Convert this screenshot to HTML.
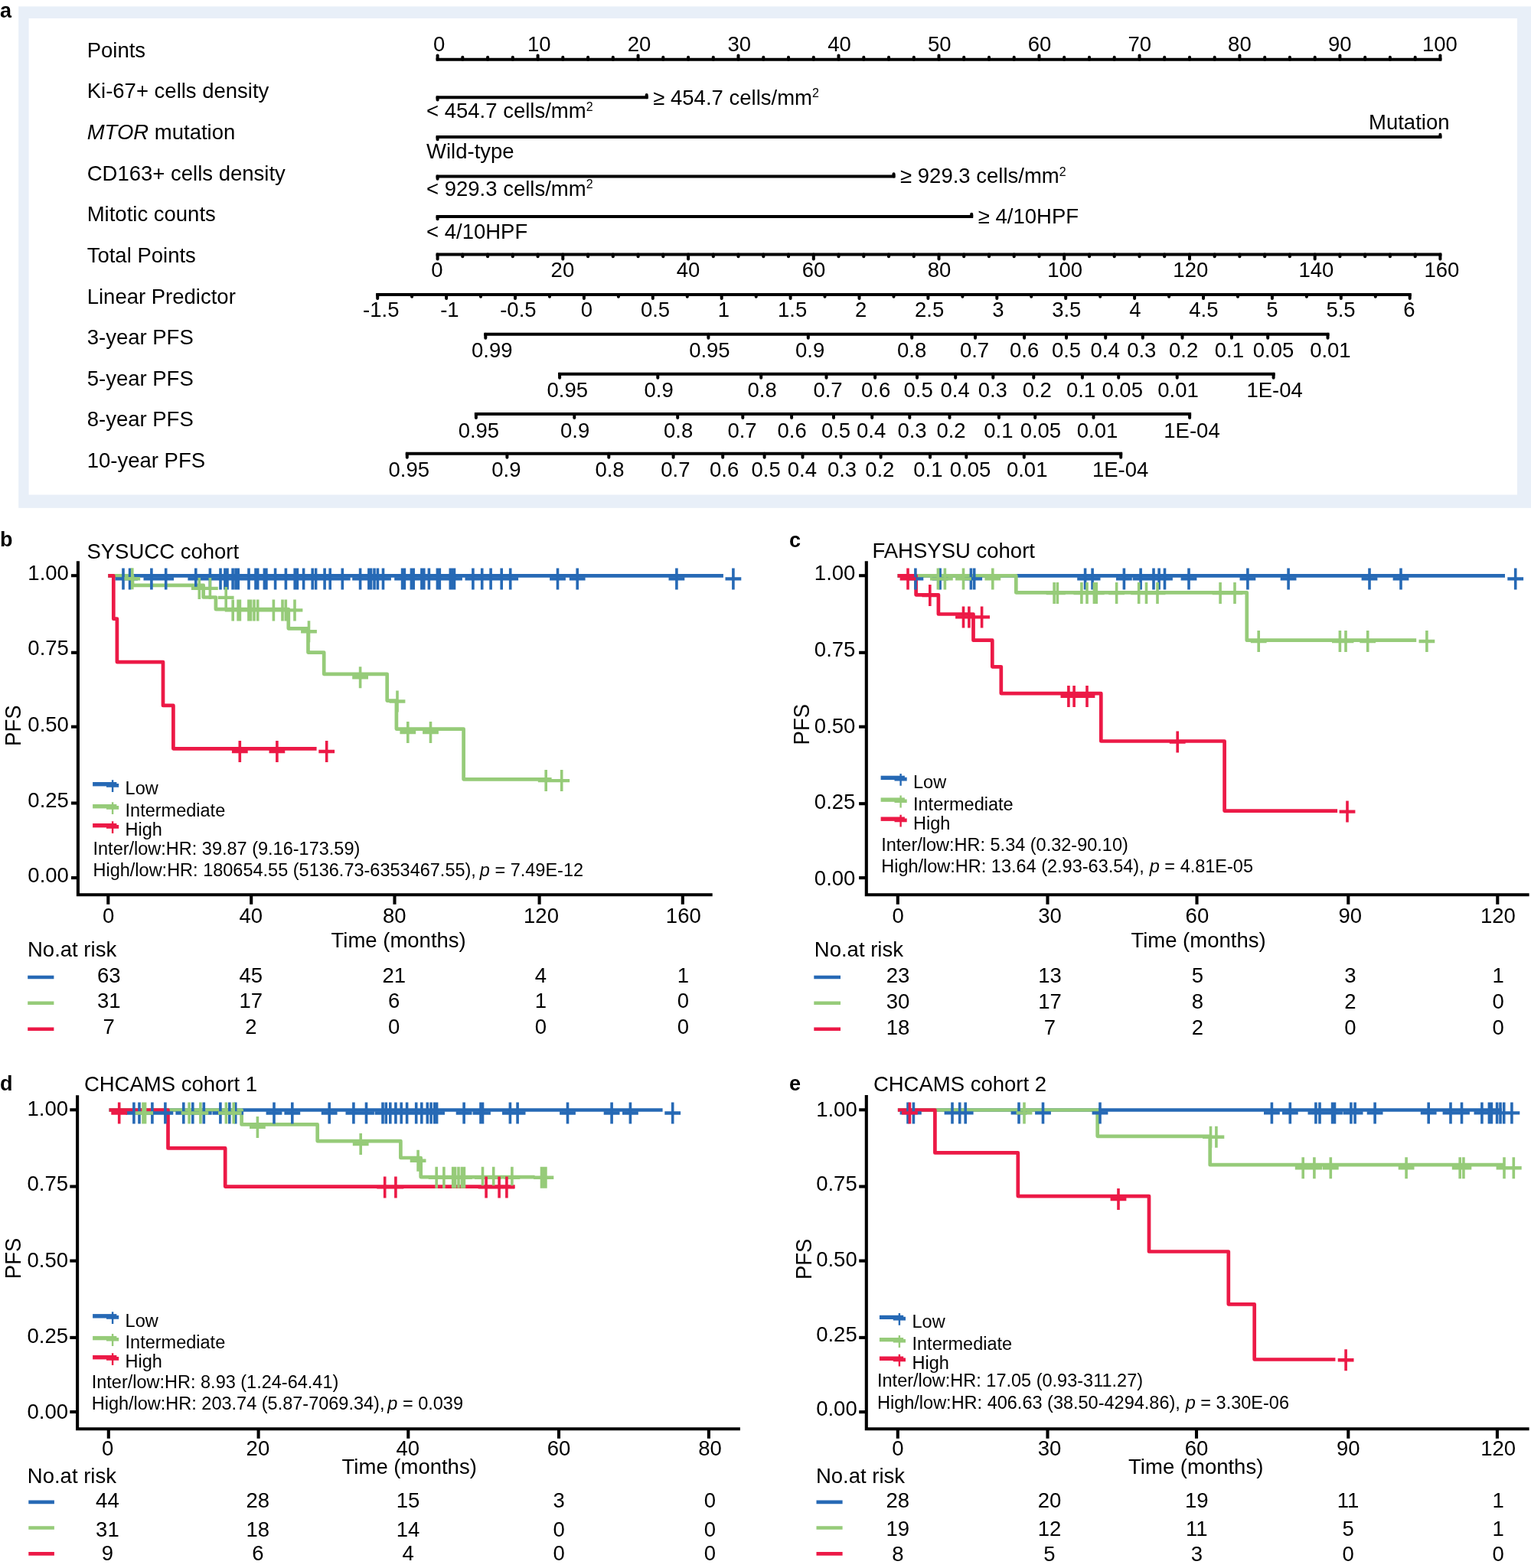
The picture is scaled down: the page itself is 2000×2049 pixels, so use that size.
<!DOCTYPE html>
<html lang="en">
<head>
<meta charset="utf-8">
<title>Nomogram and Kaplan-Meier PFS curves</title>
<style>
html,body{margin:0;padding:0;background:#fff;}
body{width:2000px;height:2049px;overflow:hidden;}
svg{display:block;font-family:"Liberation Sans", Arial, Helvetica, sans-serif;}
svg text{fill:#000;stroke:none;}
</style>
</head>
<body>
<svg xmlns="http://www.w3.org/2000/svg" width="2000" height="2049" viewBox="0 0 2000 2049" font-size="27.5" stroke="#000" fill="none">
<g stroke="none">
<rect x="0" y="0" width="2000" height="2049" fill="#fff"/>
</g>
<g id="panel-a">
<rect x="24.2" y="8.4" width="1976" height="655.4" fill="#E8EFF8" stroke="none"/>
<rect x="37.6" y="24" width="1944.4" height="622.5" fill="#fff" stroke="none"/>
<text x="0.0" y="23.3" font-weight="bold" font-size="27">a</text>
<text x="113.7" y="74.6">Points</text>
<text x="113.7" y="128.2">Ki-67+ cells density</text>
<text x="113.7" y="181.9"><tspan font-style="italic">MTOR</tspan> mutation</text>
<text x="113.7" y="235.5">CD163+ cells density</text>
<text x="113.7" y="289.2">Mitotic counts</text>
<text x="113.7" y="342.9">Total Points</text>
<text x="113.7" y="396.5">Linear Predictor</text>
<text x="113.7" y="450.1">3-year PFS</text>
<text x="113.7" y="503.8">5-year PFS</text>
<text x="113.7" y="557.4">8-year PFS</text>
<text x="113.7" y="611.1">10-year PFS</text>
<line x1="569.6" y1="77.8" x2="1883.4" y2="77.8" stroke-width="4.0"/>
<line x1="571.6" y1="77.8" x2="571.6" y2="72.4" stroke-width="4.0" stroke-linecap="round"/>
<text x="573.6" y="66.9" text-anchor="middle">0</text>
<line x1="604.3" y1="77.8" x2="604.3" y2="74.8" stroke-width="4.0" stroke-linecap="round"/>
<line x1="637.1" y1="77.8" x2="637.1" y2="74.8" stroke-width="4.0" stroke-linecap="round"/>
<line x1="669.8" y1="77.8" x2="669.8" y2="74.8" stroke-width="4.0" stroke-linecap="round"/>
<line x1="702.6" y1="77.8" x2="702.6" y2="72.4" stroke-width="4.0" stroke-linecap="round"/>
<text x="704.3" y="66.9" text-anchor="middle">10</text>
<line x1="735.3" y1="77.8" x2="735.3" y2="74.8" stroke-width="4.0" stroke-linecap="round"/>
<line x1="768.1" y1="77.8" x2="768.1" y2="74.8" stroke-width="4.0" stroke-linecap="round"/>
<line x1="800.8" y1="77.8" x2="800.8" y2="74.8" stroke-width="4.0" stroke-linecap="round"/>
<line x1="833.6" y1="77.8" x2="833.6" y2="72.4" stroke-width="4.0" stroke-linecap="round"/>
<text x="835.1" y="66.9" text-anchor="middle">20</text>
<line x1="866.3" y1="77.8" x2="866.3" y2="74.8" stroke-width="4.0" stroke-linecap="round"/>
<line x1="899.1" y1="77.8" x2="899.1" y2="74.8" stroke-width="4.0" stroke-linecap="round"/>
<line x1="931.8" y1="77.8" x2="931.8" y2="74.8" stroke-width="4.0" stroke-linecap="round"/>
<line x1="964.5" y1="77.8" x2="964.5" y2="72.4" stroke-width="4.0" stroke-linecap="round"/>
<text x="965.8" y="66.9" text-anchor="middle">30</text>
<line x1="997.3" y1="77.8" x2="997.3" y2="74.8" stroke-width="4.0" stroke-linecap="round"/>
<line x1="1030.0" y1="77.8" x2="1030.0" y2="74.8" stroke-width="4.0" stroke-linecap="round"/>
<line x1="1062.8" y1="77.8" x2="1062.8" y2="74.8" stroke-width="4.0" stroke-linecap="round"/>
<line x1="1095.5" y1="77.8" x2="1095.5" y2="72.4" stroke-width="4.0" stroke-linecap="round"/>
<text x="1096.5" y="66.9" text-anchor="middle">40</text>
<line x1="1128.3" y1="77.8" x2="1128.3" y2="74.8" stroke-width="4.0" stroke-linecap="round"/>
<line x1="1161.0" y1="77.8" x2="1161.0" y2="74.8" stroke-width="4.0" stroke-linecap="round"/>
<line x1="1193.8" y1="77.8" x2="1193.8" y2="74.8" stroke-width="4.0" stroke-linecap="round"/>
<line x1="1226.5" y1="77.8" x2="1226.5" y2="72.4" stroke-width="4.0" stroke-linecap="round"/>
<text x="1227.2" y="66.9" text-anchor="middle">50</text>
<line x1="1259.2" y1="77.8" x2="1259.2" y2="74.8" stroke-width="4.0" stroke-linecap="round"/>
<line x1="1292.0" y1="77.8" x2="1292.0" y2="74.8" stroke-width="4.0" stroke-linecap="round"/>
<line x1="1324.7" y1="77.8" x2="1324.7" y2="74.8" stroke-width="4.0" stroke-linecap="round"/>
<line x1="1357.5" y1="77.8" x2="1357.5" y2="72.4" stroke-width="4.0" stroke-linecap="round"/>
<text x="1358.0" y="66.9" text-anchor="middle">60</text>
<line x1="1390.2" y1="77.8" x2="1390.2" y2="74.8" stroke-width="4.0" stroke-linecap="round"/>
<line x1="1423.0" y1="77.8" x2="1423.0" y2="74.8" stroke-width="4.0" stroke-linecap="round"/>
<line x1="1455.7" y1="77.8" x2="1455.7" y2="74.8" stroke-width="4.0" stroke-linecap="round"/>
<line x1="1488.5" y1="77.8" x2="1488.5" y2="72.4" stroke-width="4.0" stroke-linecap="round"/>
<text x="1488.7" y="66.9" text-anchor="middle">70</text>
<line x1="1521.2" y1="77.8" x2="1521.2" y2="74.8" stroke-width="4.0" stroke-linecap="round"/>
<line x1="1554.0" y1="77.8" x2="1554.0" y2="74.8" stroke-width="4.0" stroke-linecap="round"/>
<line x1="1586.7" y1="77.8" x2="1586.7" y2="74.8" stroke-width="4.0" stroke-linecap="round"/>
<line x1="1619.4" y1="77.8" x2="1619.4" y2="72.4" stroke-width="4.0" stroke-linecap="round"/>
<text x="1619.4" y="66.9" text-anchor="middle">80</text>
<line x1="1652.2" y1="77.8" x2="1652.2" y2="74.8" stroke-width="4.0" stroke-linecap="round"/>
<line x1="1684.9" y1="77.8" x2="1684.9" y2="74.8" stroke-width="4.0" stroke-linecap="round"/>
<line x1="1717.7" y1="77.8" x2="1717.7" y2="74.8" stroke-width="4.0" stroke-linecap="round"/>
<line x1="1750.4" y1="77.8" x2="1750.4" y2="72.4" stroke-width="4.0" stroke-linecap="round"/>
<text x="1750.2" y="66.9" text-anchor="middle">90</text>
<line x1="1783.2" y1="77.8" x2="1783.2" y2="74.8" stroke-width="4.0" stroke-linecap="round"/>
<line x1="1815.9" y1="77.8" x2="1815.9" y2="74.8" stroke-width="4.0" stroke-linecap="round"/>
<line x1="1848.7" y1="77.8" x2="1848.7" y2="74.8" stroke-width="4.0" stroke-linecap="round"/>
<line x1="1881.4" y1="77.8" x2="1881.4" y2="72.4" stroke-width="4.0" stroke-linecap="round"/>
<text x="1880.9" y="66.9" text-anchor="middle">100</text>
<line x1="569.6" y1="127.3" x2="846.7" y2="127.3" stroke-width="4.0"/>
<line x1="571.6" y1="127.3" x2="571.6" y2="130.5" stroke-width="4.0" stroke-linecap="round"/>
<line x1="844.7" y1="127.3" x2="844.7" y2="124.1" stroke-width="4.0" stroke-linecap="round"/>
<text x="557.0" y="153.8">&lt; 454.7 cells/mm<tspan font-size="16" dy="-9.3">2</tspan></text>
<text x="853.3" y="136.7">≥ 454.7 cells/mm<tspan font-size="16" dy="-9.3">2</tspan></text>
<line x1="569.6" y1="179.0" x2="1883.4" y2="179.0" stroke-width="4.0"/>
<line x1="571.6" y1="179.0" x2="571.6" y2="182.2" stroke-width="4.0" stroke-linecap="round"/>
<line x1="1881.4" y1="179.0" x2="1881.4" y2="175.8" stroke-width="4.0" stroke-linecap="round"/>
<text x="557.0" y="206.5">Wild-type</text>
<text x="1893.5" y="169.1" text-anchor="end">Mutation</text>
<line x1="569.6" y1="230.5" x2="1169.5" y2="230.5" stroke-width="4.0"/>
<line x1="571.6" y1="230.5" x2="571.6" y2="233.7" stroke-width="4.0" stroke-linecap="round"/>
<line x1="1167.5" y1="230.5" x2="1167.5" y2="227.3" stroke-width="4.0" stroke-linecap="round"/>
<text x="557.0" y="255.7">&lt; 929.3 cells/mm<tspan font-size="16" dy="-9.3">2</tspan></text>
<text x="1176.1" y="239.2">≥ 929.3 cells/mm<tspan font-size="16" dy="-9.3">2</tspan></text>
<line x1="569.6" y1="283.0" x2="1271.2" y2="283.0" stroke-width="4.0"/>
<line x1="571.6" y1="283.0" x2="571.6" y2="286.2" stroke-width="4.0" stroke-linecap="round"/>
<line x1="1269.2" y1="283.0" x2="1269.2" y2="279.8" stroke-width="4.0" stroke-linecap="round"/>
<text x="557.0" y="312.4">&lt; 4/10HPF</text>
<text x="1277.8" y="291.7">≥ 4/10HPF</text>
<line x1="569.6" y1="332.4" x2="1883.4" y2="332.4" stroke-width="4.0"/>
<line x1="571.6" y1="332.4" x2="571.6" y2="338.4" stroke-width="4.0" stroke-linecap="round"/>
<text x="570.8" y="362.0" text-anchor="middle">0</text>
<line x1="604.3" y1="332.4" x2="604.3" y2="335.2" stroke-width="4.0" stroke-linecap="round"/>
<line x1="637.1" y1="332.4" x2="637.1" y2="335.2" stroke-width="4.0" stroke-linecap="round"/>
<line x1="669.8" y1="332.4" x2="669.8" y2="335.2" stroke-width="4.0" stroke-linecap="round"/>
<line x1="702.6" y1="332.4" x2="702.6" y2="335.2" stroke-width="4.0" stroke-linecap="round"/>
<line x1="735.3" y1="332.4" x2="735.3" y2="338.4" stroke-width="4.0" stroke-linecap="round"/>
<text x="734.9" y="362.0" text-anchor="middle">20</text>
<line x1="768.1" y1="332.4" x2="768.1" y2="335.2" stroke-width="4.0" stroke-linecap="round"/>
<line x1="800.8" y1="332.4" x2="800.8" y2="335.2" stroke-width="4.0" stroke-linecap="round"/>
<line x1="833.6" y1="332.4" x2="833.6" y2="335.2" stroke-width="4.0" stroke-linecap="round"/>
<line x1="866.3" y1="332.4" x2="866.3" y2="335.2" stroke-width="4.0" stroke-linecap="round"/>
<line x1="899.1" y1="332.4" x2="899.1" y2="338.4" stroke-width="4.0" stroke-linecap="round"/>
<text x="899.0" y="362.0" text-anchor="middle">40</text>
<line x1="931.8" y1="332.4" x2="931.8" y2="335.2" stroke-width="4.0" stroke-linecap="round"/>
<line x1="964.5" y1="332.4" x2="964.5" y2="335.2" stroke-width="4.0" stroke-linecap="round"/>
<line x1="997.3" y1="332.4" x2="997.3" y2="335.2" stroke-width="4.0" stroke-linecap="round"/>
<line x1="1030.0" y1="332.4" x2="1030.0" y2="335.2" stroke-width="4.0" stroke-linecap="round"/>
<line x1="1062.8" y1="332.4" x2="1062.8" y2="338.4" stroke-width="4.0" stroke-linecap="round"/>
<text x="1063.0" y="362.0" text-anchor="middle">60</text>
<line x1="1095.5" y1="332.4" x2="1095.5" y2="335.2" stroke-width="4.0" stroke-linecap="round"/>
<line x1="1128.3" y1="332.4" x2="1128.3" y2="335.2" stroke-width="4.0" stroke-linecap="round"/>
<line x1="1161.0" y1="332.4" x2="1161.0" y2="335.2" stroke-width="4.0" stroke-linecap="round"/>
<line x1="1193.8" y1="332.4" x2="1193.8" y2="335.2" stroke-width="4.0" stroke-linecap="round"/>
<line x1="1226.5" y1="332.4" x2="1226.5" y2="338.4" stroke-width="4.0" stroke-linecap="round"/>
<text x="1227.1" y="362.0" text-anchor="middle">80</text>
<line x1="1259.2" y1="332.4" x2="1259.2" y2="335.2" stroke-width="4.0" stroke-linecap="round"/>
<line x1="1292.0" y1="332.4" x2="1292.0" y2="335.2" stroke-width="4.0" stroke-linecap="round"/>
<line x1="1324.7" y1="332.4" x2="1324.7" y2="335.2" stroke-width="4.0" stroke-linecap="round"/>
<line x1="1357.5" y1="332.4" x2="1357.5" y2="335.2" stroke-width="4.0" stroke-linecap="round"/>
<line x1="1390.2" y1="332.4" x2="1390.2" y2="338.4" stroke-width="4.0" stroke-linecap="round"/>
<text x="1391.2" y="362.0" text-anchor="middle">100</text>
<line x1="1423.0" y1="332.4" x2="1423.0" y2="335.2" stroke-width="4.0" stroke-linecap="round"/>
<line x1="1455.7" y1="332.4" x2="1455.7" y2="335.2" stroke-width="4.0" stroke-linecap="round"/>
<line x1="1488.5" y1="332.4" x2="1488.5" y2="335.2" stroke-width="4.0" stroke-linecap="round"/>
<line x1="1521.2" y1="332.4" x2="1521.2" y2="335.2" stroke-width="4.0" stroke-linecap="round"/>
<line x1="1554.0" y1="332.4" x2="1554.0" y2="338.4" stroke-width="4.0" stroke-linecap="round"/>
<text x="1555.3" y="362.0" text-anchor="middle">120</text>
<line x1="1586.7" y1="332.4" x2="1586.7" y2="335.2" stroke-width="4.0" stroke-linecap="round"/>
<line x1="1619.4" y1="332.4" x2="1619.4" y2="335.2" stroke-width="4.0" stroke-linecap="round"/>
<line x1="1652.2" y1="332.4" x2="1652.2" y2="335.2" stroke-width="4.0" stroke-linecap="round"/>
<line x1="1684.9" y1="332.4" x2="1684.9" y2="335.2" stroke-width="4.0" stroke-linecap="round"/>
<line x1="1717.7" y1="332.4" x2="1717.7" y2="338.4" stroke-width="4.0" stroke-linecap="round"/>
<text x="1719.4" y="362.0" text-anchor="middle">140</text>
<line x1="1750.4" y1="332.4" x2="1750.4" y2="335.2" stroke-width="4.0" stroke-linecap="round"/>
<line x1="1783.2" y1="332.4" x2="1783.2" y2="335.2" stroke-width="4.0" stroke-linecap="round"/>
<line x1="1815.9" y1="332.4" x2="1815.9" y2="335.2" stroke-width="4.0" stroke-linecap="round"/>
<line x1="1848.7" y1="332.4" x2="1848.7" y2="335.2" stroke-width="4.0" stroke-linecap="round"/>
<line x1="1881.4" y1="332.4" x2="1881.4" y2="338.4" stroke-width="4.0" stroke-linecap="round"/>
<text x="1883.4" y="362.0" text-anchor="middle">160</text>
<line x1="491.2" y1="385.0" x2="1843.7" y2="385.0" stroke-width="4.0"/>
<line x1="493.2" y1="385.0" x2="493.2" y2="390.0" stroke-width="4.0" stroke-linecap="round"/>
<text x="497.8" y="413.8" text-anchor="middle">-1.5</text>
<line x1="538.1" y1="385.0" x2="538.1" y2="387.8" stroke-width="4.0" stroke-linecap="round"/>
<line x1="583.1" y1="385.0" x2="583.1" y2="390.0" stroke-width="4.0" stroke-linecap="round"/>
<text x="587.4" y="413.8" text-anchor="middle">-1</text>
<line x1="628.0" y1="385.0" x2="628.0" y2="387.8" stroke-width="4.0" stroke-linecap="round"/>
<line x1="673.0" y1="385.0" x2="673.0" y2="390.0" stroke-width="4.0" stroke-linecap="round"/>
<text x="676.9" y="413.8" text-anchor="middle">-0.5</text>
<line x1="718.0" y1="385.0" x2="718.0" y2="387.8" stroke-width="4.0" stroke-linecap="round"/>
<line x1="762.9" y1="385.0" x2="762.9" y2="390.0" stroke-width="4.0" stroke-linecap="round"/>
<text x="766.5" y="413.8" text-anchor="middle">0</text>
<line x1="807.9" y1="385.0" x2="807.9" y2="387.8" stroke-width="4.0" stroke-linecap="round"/>
<line x1="852.8" y1="385.0" x2="852.8" y2="390.0" stroke-width="4.0" stroke-linecap="round"/>
<text x="856.0" y="413.8" text-anchor="middle">0.5</text>
<line x1="897.8" y1="385.0" x2="897.8" y2="387.8" stroke-width="4.0" stroke-linecap="round"/>
<line x1="942.7" y1="385.0" x2="942.7" y2="390.0" stroke-width="4.0" stroke-linecap="round"/>
<text x="945.5" y="413.8" text-anchor="middle">1</text>
<line x1="987.7" y1="385.0" x2="987.7" y2="387.8" stroke-width="4.0" stroke-linecap="round"/>
<line x1="1032.6" y1="385.0" x2="1032.6" y2="390.0" stroke-width="4.0" stroke-linecap="round"/>
<text x="1035.1" y="413.8" text-anchor="middle">1.5</text>
<line x1="1077.5" y1="385.0" x2="1077.5" y2="387.8" stroke-width="4.0" stroke-linecap="round"/>
<line x1="1122.5" y1="385.0" x2="1122.5" y2="390.0" stroke-width="4.0" stroke-linecap="round"/>
<text x="1124.7" y="413.8" text-anchor="middle">2</text>
<line x1="1167.5" y1="385.0" x2="1167.5" y2="387.8" stroke-width="4.0" stroke-linecap="round"/>
<line x1="1212.4" y1="385.0" x2="1212.4" y2="390.0" stroke-width="4.0" stroke-linecap="round"/>
<text x="1214.2" y="413.8" text-anchor="middle">2.5</text>
<line x1="1257.4" y1="385.0" x2="1257.4" y2="387.8" stroke-width="4.0" stroke-linecap="round"/>
<line x1="1302.3" y1="385.0" x2="1302.3" y2="390.0" stroke-width="4.0" stroke-linecap="round"/>
<text x="1303.8" y="413.8" text-anchor="middle">3</text>
<line x1="1347.2" y1="385.0" x2="1347.2" y2="387.8" stroke-width="4.0" stroke-linecap="round"/>
<line x1="1392.2" y1="385.0" x2="1392.2" y2="390.0" stroke-width="4.0" stroke-linecap="round"/>
<text x="1393.3" y="413.8" text-anchor="middle">3.5</text>
<line x1="1437.2" y1="385.0" x2="1437.2" y2="387.8" stroke-width="4.0" stroke-linecap="round"/>
<line x1="1482.1" y1="385.0" x2="1482.1" y2="390.0" stroke-width="4.0" stroke-linecap="round"/>
<text x="1482.8" y="413.8" text-anchor="middle">4</text>
<line x1="1527.1" y1="385.0" x2="1527.1" y2="387.8" stroke-width="4.0" stroke-linecap="round"/>
<line x1="1572.0" y1="385.0" x2="1572.0" y2="390.0" stroke-width="4.0" stroke-linecap="round"/>
<text x="1572.4" y="413.8" text-anchor="middle">4.5</text>
<line x1="1617.0" y1="385.0" x2="1617.0" y2="387.8" stroke-width="4.0" stroke-linecap="round"/>
<line x1="1661.9" y1="385.0" x2="1661.9" y2="390.0" stroke-width="4.0" stroke-linecap="round"/>
<text x="1661.9" y="413.8" text-anchor="middle">5</text>
<line x1="1706.9" y1="385.0" x2="1706.9" y2="387.8" stroke-width="4.0" stroke-linecap="round"/>
<line x1="1751.8" y1="385.0" x2="1751.8" y2="390.0" stroke-width="4.0" stroke-linecap="round"/>
<text x="1751.5" y="413.8" text-anchor="middle">5.5</text>
<line x1="1796.8" y1="385.0" x2="1796.8" y2="387.8" stroke-width="4.0" stroke-linecap="round"/>
<line x1="1841.7" y1="385.0" x2="1841.7" y2="390.0" stroke-width="4.0" stroke-linecap="round"/>
<text x="1841.0" y="413.8" text-anchor="middle">6</text>
<line x1="632.3" y1="436.8" x2="1736.5" y2="436.8" stroke-width="4.0"/>
<line x1="634.3" y1="436.8" x2="634.3" y2="441.8" stroke-width="4.0" stroke-linecap="round"/>
<text x="642.8" y="466.8" text-anchor="middle">0.99</text>
<line x1="925.4" y1="436.8" x2="925.4" y2="441.8" stroke-width="4.0" stroke-linecap="round"/>
<text x="926.9" y="466.8" text-anchor="middle">0.95</text>
<line x1="1055.8" y1="436.8" x2="1055.8" y2="441.8" stroke-width="4.0" stroke-linecap="round"/>
<text x="1058.1" y="466.8" text-anchor="middle">0.9</text>
<line x1="1191.2" y1="436.8" x2="1191.2" y2="441.8" stroke-width="4.0" stroke-linecap="round"/>
<text x="1191.2" y="466.8" text-anchor="middle">0.8</text>
<line x1="1274.0" y1="436.8" x2="1274.0" y2="441.8" stroke-width="4.0" stroke-linecap="round"/>
<text x="1273.0" y="466.8" text-anchor="middle">0.7</text>
<line x1="1338.1" y1="436.8" x2="1338.1" y2="441.8" stroke-width="4.0" stroke-linecap="round"/>
<text x="1338.1" y="466.8" text-anchor="middle">0.6</text>
<line x1="1393.0" y1="436.8" x2="1393.0" y2="441.8" stroke-width="4.0" stroke-linecap="round"/>
<text x="1393.0" y="466.8" text-anchor="middle">0.5</text>
<line x1="1444.2" y1="436.8" x2="1444.2" y2="441.8" stroke-width="4.0" stroke-linecap="round"/>
<text x="1443.6" y="466.8" text-anchor="middle">0.4</text>
<line x1="1492.8" y1="436.8" x2="1492.8" y2="441.8" stroke-width="4.0" stroke-linecap="round"/>
<text x="1491.3" y="466.8" text-anchor="middle">0.3</text>
<line x1="1544.5" y1="436.8" x2="1544.5" y2="441.8" stroke-width="4.0" stroke-linecap="round"/>
<text x="1546.1" y="466.8" text-anchor="middle">0.2</text>
<line x1="1608.9" y1="436.8" x2="1608.9" y2="441.8" stroke-width="4.0" stroke-linecap="round"/>
<text x="1605.9" y="466.8" text-anchor="middle">0.1</text>
<line x1="1656.2" y1="436.8" x2="1656.2" y2="441.8" stroke-width="4.0" stroke-linecap="round"/>
<text x="1663.5" y="466.8" text-anchor="middle">0.05</text>
<line x1="1734.5" y1="436.8" x2="1734.5" y2="441.8" stroke-width="4.0" stroke-linecap="round"/>
<text x="1737.9" y="466.8" text-anchor="middle">0.01</text>
<line x1="729.1" y1="488.7" x2="1665.6" y2="488.7" stroke-width="4.0"/>
<line x1="731.1" y1="488.7" x2="731.1" y2="493.7" stroke-width="4.0" stroke-linecap="round"/>
<text x="741.3" y="518.5" text-anchor="middle">0.95</text>
<line x1="859.3" y1="488.7" x2="859.3" y2="493.7" stroke-width="4.0" stroke-linecap="round"/>
<text x="860.6" y="518.5" text-anchor="middle">0.9</text>
<line x1="994.2" y1="488.7" x2="994.2" y2="493.7" stroke-width="4.0" stroke-linecap="round"/>
<text x="995.7" y="518.5" text-anchor="middle">0.8</text>
<line x1="1079.5" y1="488.7" x2="1079.5" y2="493.7" stroke-width="4.0" stroke-linecap="round"/>
<text x="1081.5" y="518.5" text-anchor="middle">0.7</text>
<line x1="1143.1" y1="488.7" x2="1143.1" y2="493.7" stroke-width="4.0" stroke-linecap="round"/>
<text x="1144.2" y="518.5" text-anchor="middle">0.6</text>
<line x1="1198.0" y1="488.7" x2="1198.0" y2="493.7" stroke-width="4.0" stroke-linecap="round"/>
<text x="1199.6" y="518.5" text-anchor="middle">0.5</text>
<line x1="1248.2" y1="488.7" x2="1248.2" y2="493.7" stroke-width="4.0" stroke-linecap="round"/>
<text x="1247.7" y="518.5" text-anchor="middle">0.4</text>
<line x1="1297.3" y1="488.7" x2="1297.3" y2="493.7" stroke-width="4.0" stroke-linecap="round"/>
<text x="1296.8" y="518.5" text-anchor="middle">0.3</text>
<line x1="1350.3" y1="488.7" x2="1350.3" y2="493.7" stroke-width="4.0" stroke-linecap="round"/>
<text x="1354.8" y="518.5" text-anchor="middle">0.2</text>
<line x1="1413.9" y1="488.7" x2="1413.9" y2="493.7" stroke-width="4.0" stroke-linecap="round"/>
<text x="1412.0" y="518.5" text-anchor="middle">0.1</text>
<line x1="1461.2" y1="488.7" x2="1461.2" y2="493.7" stroke-width="4.0" stroke-linecap="round"/>
<text x="1466.2" y="518.5" text-anchor="middle">0.05</text>
<line x1="1537.7" y1="488.7" x2="1537.7" y2="493.7" stroke-width="4.0" stroke-linecap="round"/>
<text x="1539.0" y="518.5" text-anchor="middle">0.01</text>
<line x1="1663.6" y1="488.7" x2="1663.6" y2="493.7" stroke-width="4.0" stroke-linecap="round"/>
<text x="1665.1" y="518.5" text-anchor="middle">1E-04</text>
<line x1="619.9" y1="541.1" x2="1556.1" y2="541.1" stroke-width="4.0"/>
<line x1="621.9" y1="541.1" x2="621.9" y2="546.1" stroke-width="4.0" stroke-linecap="round"/>
<text x="625.4" y="572.1" text-anchor="middle">0.95</text>
<line x1="750.3" y1="541.1" x2="750.3" y2="546.1" stroke-width="4.0" stroke-linecap="round"/>
<text x="751.1" y="572.1" text-anchor="middle">0.9</text>
<line x1="885.2" y1="541.1" x2="885.2" y2="546.1" stroke-width="4.0" stroke-linecap="round"/>
<text x="886.1" y="572.1" text-anchor="middle">0.8</text>
<line x1="970.3" y1="541.1" x2="970.3" y2="546.1" stroke-width="4.0" stroke-linecap="round"/>
<text x="969.5" y="572.1" text-anchor="middle">0.7</text>
<line x1="1034.1" y1="541.1" x2="1034.1" y2="546.1" stroke-width="4.0" stroke-linecap="round"/>
<text x="1034.6" y="572.1" text-anchor="middle">0.6</text>
<line x1="1089.0" y1="541.1" x2="1089.0" y2="546.1" stroke-width="4.0" stroke-linecap="round"/>
<text x="1092.0" y="572.1" text-anchor="middle">0.5</text>
<line x1="1139.2" y1="541.1" x2="1139.2" y2="546.1" stroke-width="4.0" stroke-linecap="round"/>
<text x="1138.1" y="572.1" text-anchor="middle">0.4</text>
<line x1="1188.3" y1="541.1" x2="1188.3" y2="546.1" stroke-width="4.0" stroke-linecap="round"/>
<text x="1191.5" y="572.1" text-anchor="middle">0.3</text>
<line x1="1240.5" y1="541.1" x2="1240.5" y2="546.1" stroke-width="4.0" stroke-linecap="round"/>
<text x="1242.5" y="572.1" text-anchor="middle">0.2</text>
<line x1="1304.9" y1="541.1" x2="1304.9" y2="546.1" stroke-width="4.0" stroke-linecap="round"/>
<text x="1304.4" y="572.1" text-anchor="middle">0.1</text>
<line x1="1352.2" y1="541.1" x2="1352.2" y2="546.1" stroke-width="4.0" stroke-linecap="round"/>
<text x="1359.4" y="572.1" text-anchor="middle">0.05</text>
<line x1="1428.5" y1="541.1" x2="1428.5" y2="546.1" stroke-width="4.0" stroke-linecap="round"/>
<text x="1433.5" y="572.1" text-anchor="middle">0.01</text>
<line x1="1554.1" y1="541.1" x2="1554.1" y2="546.1" stroke-width="4.0" stroke-linecap="round"/>
<text x="1557.0" y="572.1" text-anchor="middle">1E-04</text>
<line x1="529.8" y1="592.7" x2="1466.2" y2="592.7" stroke-width="4.0"/>
<line x1="531.8" y1="592.7" x2="531.8" y2="597.7" stroke-width="4.0" stroke-linecap="round"/>
<text x="534.3" y="623.3" text-anchor="middle">0.95</text>
<line x1="662.4" y1="592.7" x2="662.4" y2="597.7" stroke-width="4.0" stroke-linecap="round"/>
<text x="661.4" y="623.3" text-anchor="middle">0.9</text>
<line x1="795.3" y1="592.7" x2="795.3" y2="597.7" stroke-width="4.0" stroke-linecap="round"/>
<text x="796.5" y="623.3" text-anchor="middle">0.8</text>
<line x1="879.6" y1="592.7" x2="879.6" y2="597.7" stroke-width="4.0" stroke-linecap="round"/>
<text x="882.4" y="623.3" text-anchor="middle">0.7</text>
<line x1="944.2" y1="592.7" x2="944.2" y2="597.7" stroke-width="4.0" stroke-linecap="round"/>
<text x="946.2" y="623.3" text-anchor="middle">0.6</text>
<line x1="998.6" y1="592.7" x2="998.6" y2="597.7" stroke-width="4.0" stroke-linecap="round"/>
<text x="1000.6" y="623.3" text-anchor="middle">0.5</text>
<line x1="1048.5" y1="592.7" x2="1048.5" y2="597.7" stroke-width="4.0" stroke-linecap="round"/>
<text x="1047.9" y="623.3" text-anchor="middle">0.4</text>
<line x1="1098.4" y1="592.7" x2="1098.4" y2="597.7" stroke-width="4.0" stroke-linecap="round"/>
<text x="1100.0" y="623.3" text-anchor="middle">0.3</text>
<line x1="1150.6" y1="592.7" x2="1150.6" y2="597.7" stroke-width="4.0" stroke-linecap="round"/>
<text x="1149.3" y="623.3" text-anchor="middle">0.2</text>
<line x1="1215.0" y1="592.7" x2="1215.0" y2="597.7" stroke-width="4.0" stroke-linecap="round"/>
<text x="1212.4" y="623.3" text-anchor="middle">0.1</text>
<line x1="1262.3" y1="592.7" x2="1262.3" y2="597.7" stroke-width="4.0" stroke-linecap="round"/>
<text x="1267.6" y="623.3" text-anchor="middle">0.05</text>
<line x1="1337.8" y1="592.7" x2="1337.8" y2="597.7" stroke-width="4.0" stroke-linecap="round"/>
<text x="1341.7" y="623.3" text-anchor="middle">0.01</text>
<line x1="1464.2" y1="592.7" x2="1464.2" y2="597.7" stroke-width="4.0" stroke-linecap="round"/>
<text x="1463.6" y="623.3" text-anchor="middle">1E-04</text>
</g>
<g id="panel-b">
<text x="0.0" y="714.2" font-weight="bold" font-size="27">b</text>
<text x="113.4" y="729.9">SYSUCC cohort</text>
<path d="M101.9,733.3V1169.2H930.7" stroke-width="4.1" stroke-linejoin="miter"/>
<line x1="93.0" y1="752.2" x2="101.9" y2="752.2" stroke-width="4.1"/>
<text x="89.9" y="757.7" text-anchor="end">1.00</text>
<line x1="93.0" y1="852.8" x2="101.9" y2="852.8" stroke-width="4.1"/>
<text x="89.9" y="856.2" text-anchor="end">0.75</text>
<line x1="93.0" y1="949.7" x2="101.9" y2="949.7" stroke-width="4.1"/>
<text x="89.9" y="955.7" text-anchor="end">0.50</text>
<line x1="93.0" y1="1049.5" x2="101.9" y2="1049.5" stroke-width="4.1"/>
<text x="89.9" y="1054.6" text-anchor="end">0.25</text>
<line x1="93.0" y1="1147.1" x2="101.9" y2="1147.1" stroke-width="4.1"/>
<text x="89.9" y="1152.8" text-anchor="end">0.00</text>
<line x1="141.3" y1="1169.2" x2="141.3" y2="1181.8" stroke-width="4.1"/>
<text x="141.7" y="1206.0" text-anchor="middle">0</text>
<line x1="328.2" y1="1169.2" x2="328.2" y2="1181.8" stroke-width="4.1"/>
<text x="327.8" y="1206.0" text-anchor="middle">40</text>
<line x1="515.5" y1="1169.2" x2="515.5" y2="1181.8" stroke-width="4.1"/>
<text x="515.2" y="1206.0" text-anchor="middle">80</text>
<line x1="704.6" y1="1169.2" x2="704.6" y2="1181.8" stroke-width="4.1"/>
<text x="707.0" y="1206.0" text-anchor="middle">120</text>
<line x1="891.8" y1="1169.2" x2="891.8" y2="1181.8" stroke-width="4.1"/>
<text x="892.8" y="1206.0" text-anchor="middle">160</text>
<text x="432.5" y="1238.2">Time (months)</text>
<text transform="translate(27.0,948.2) rotate(-90) scale(1,1.05)" text-anchor="middle">PFS</text>
<path d="M141.3,752.4H944.9" stroke="#2669B5" stroke-width="4.7" stroke-linejoin="round"/>
<path d="M141.3,752.4H173.0V764.9H265.7V780.5H281.9V796.1H376.8V821.3H402.5V852.6H423.2V880.8H505.7V915.6H517.9V952.6H605.6V1018.3H720.6" stroke="#96CB79" stroke-width="4.7" stroke-linejoin="round"/>
<path d="M141.3,752.4H148.3V808.7H152.9V865.1H213V921.9H226.4V978.3H413.6" stroke="#EC1946" stroke-width="4.7" stroke-linejoin="round"/>
<path d="M159.2,742.4h3.6v28h-3.6zM150.6,754.2h20.8v4.4h-20.8zM167.8,742.4h3.6v28h-3.6zM159.2,754.2h20.8v4.4h-20.8zM196.1,742.4h3.6v28h-3.6zM187.5,754.2h20.8v4.4h-20.8zM214.9,742.4h3.6v28h-3.6zM206.3,754.2h20.8v4.4h-20.8zM254.0,742.4h3.6v28h-3.6zM245.4,754.2h20.8v4.4h-20.8zM272.6,742.4h3.6v28h-3.6zM264.0,754.2h20.8v4.4h-20.8zM286.2,742.4h3.6v28h-3.6zM277.6,754.2h20.8v4.4h-20.8zM292.1,742.4h3.6v28h-3.6zM283.5,754.2h20.8v4.4h-20.8zM295.2,742.4h3.6v28h-3.6zM286.6,754.2h20.8v4.4h-20.8zM302.3,742.4h3.6v28h-3.6zM293.7,754.2h20.8v4.4h-20.8zM306.2,742.4h3.6v28h-3.6zM297.6,754.2h20.8v4.4h-20.8zM309.4,742.4h3.6v28h-3.6zM300.8,754.2h20.8v4.4h-20.8zM323.2,742.4h3.6v28h-3.6zM314.6,754.2h20.8v4.4h-20.8zM332.2,742.4h3.6v28h-3.6zM323.6,754.2h20.8v4.4h-20.8zM334.9,742.4h3.6v28h-3.6zM326.3,754.2h20.8v4.4h-20.8zM343.6,742.4h3.6v28h-3.6zM335.0,754.2h20.8v4.4h-20.8zM346.1,742.4h3.6v28h-3.6zM337.5,754.2h20.8v4.4h-20.8zM357.8,742.4h3.6v28h-3.6zM349.2,754.2h20.8v4.4h-20.8zM371.6,742.4h3.6v28h-3.6zM363.0,754.2h20.8v4.4h-20.8zM383.4,742.4h3.6v28h-3.6zM374.8,754.2h20.8v4.4h-20.8zM386.6,742.4h3.6v28h-3.6zM378.0,754.2h20.8v4.4h-20.8zM394.8,742.4h3.6v28h-3.6zM386.2,754.2h20.8v4.4h-20.8zM406.4,742.4h3.6v28h-3.6zM397.8,754.2h20.8v4.4h-20.8zM410.8,742.4h3.6v28h-3.6zM402.2,754.2h20.8v4.4h-20.8zM422.3,742.4h3.6v28h-3.6zM413.7,754.2h20.8v4.4h-20.8zM429.4,742.4h3.6v28h-3.6zM420.8,754.2h20.8v4.4h-20.8zM445.5,742.4h3.6v28h-3.6zM436.9,754.2h20.8v4.4h-20.8zM468.8,742.4h3.6v28h-3.6zM460.2,754.2h20.8v4.4h-20.8zM480.1,742.4h3.6v28h-3.6zM471.5,754.2h20.8v4.4h-20.8zM482.8,742.4h3.6v28h-3.6zM474.2,754.2h20.8v4.4h-20.8zM487.2,742.4h3.6v28h-3.6zM478.6,754.2h20.8v4.4h-20.8zM491.6,742.4h3.6v28h-3.6zM483.0,754.2h20.8v4.4h-20.8zM498.7,742.4h3.6v28h-3.6zM490.1,754.2h20.8v4.4h-20.8zM523.8,742.4h3.6v28h-3.6zM515.2,754.2h20.8v4.4h-20.8zM526.6,742.4h3.6v28h-3.6zM518.0,754.2h20.8v4.4h-20.8zM535.6,742.4h3.6v28h-3.6zM527.0,754.2h20.8v4.4h-20.8zM538.4,742.4h3.6v28h-3.6zM529.8,754.2h20.8v4.4h-20.8zM549.1,742.4h3.6v28h-3.6zM540.5,754.2h20.8v4.4h-20.8zM552.0,742.4h3.6v28h-3.6zM543.4,754.2h20.8v4.4h-20.8zM558.6,742.4h3.6v28h-3.6zM550.0,754.2h20.8v4.4h-20.8zM569.6,742.4h3.6v28h-3.6zM561.0,754.2h20.8v4.4h-20.8zM572.5,742.4h3.6v28h-3.6zM563.9,754.2h20.8v4.4h-20.8zM586.5,742.4h3.6v28h-3.6zM577.9,754.2h20.8v4.4h-20.8zM589.0,742.4h3.6v28h-3.6zM580.4,754.2h20.8v4.4h-20.8zM591.7,742.4h3.6v28h-3.6zM583.1,754.2h20.8v4.4h-20.8zM616.1,742.4h3.6v28h-3.6zM607.5,754.2h20.8v4.4h-20.8zM627.9,742.4h3.6v28h-3.6zM619.3,754.2h20.8v4.4h-20.8zM639.3,742.4h3.6v28h-3.6zM630.7,754.2h20.8v4.4h-20.8zM653.4,742.4h3.6v28h-3.6zM644.8,754.2h20.8v4.4h-20.8zM664.9,742.4h3.6v28h-3.6zM656.3,754.2h20.8v4.4h-20.8zM726.7,742.4h3.6v28h-3.6zM718.1,754.2h20.8v4.4h-20.8zM752.4,742.4h3.6v28h-3.6zM743.8,754.2h20.8v4.4h-20.8zM882.1,742.4h3.6v28h-3.6zM873.5,754.2h20.8v4.4h-20.8zM956.1,742.4h3.6v28h-3.6zM947.5,754.2h20.8v4.4h-20.8z" fill="#2669B5" stroke="none"/>
<path d="M171.0,742.3h3.6v28h-3.6zM162.4,754.1h20.8v4.4h-20.8zM258.5,754.9h3.6v28h-3.6zM249.9,766.7h20.8v4.4h-20.8zM272.6,754.9h3.6v28h-3.6zM264.0,766.7h20.8v4.4h-20.8zM293.4,766.9h3.6v28h-3.6zM284.8,778.7h20.8v4.4h-20.8zM302.4,783.4h3.6v28h-3.6zM293.8,795.2h20.8v4.4h-20.8zM309.3,783.4h3.6v28h-3.6zM300.7,795.2h20.8v4.4h-20.8zM311.6,783.4h3.6v28h-3.6zM303.0,795.2h20.8v4.4h-20.8zM323.1,783.4h3.6v28h-3.6zM314.5,795.2h20.8v4.4h-20.8zM325.8,783.4h3.6v28h-3.6zM317.2,795.2h20.8v4.4h-20.8zM330.2,783.4h3.6v28h-3.6zM321.6,795.2h20.8v4.4h-20.8zM334.9,783.4h3.6v28h-3.6zM326.3,795.2h20.8v4.4h-20.8zM355.6,783.4h3.6v28h-3.6zM347.0,795.2h20.8v4.4h-20.8zM367.2,783.4h3.6v28h-3.6zM358.6,795.2h20.8v4.4h-20.8zM371.5,783.4h3.6v28h-3.6zM362.9,795.2h20.8v4.4h-20.8zM383.2,783.4h3.6v28h-3.6zM374.6,795.2h20.8v4.4h-20.8zM401.7,811.3h3.6v28h-3.6zM393.1,823.1h20.8v4.4h-20.8zM468.8,871.2h3.6v28h-3.6zM460.2,883.0h20.8v4.4h-20.8zM517.2,902.5h3.6v28h-3.6zM508.6,914.3h20.8v4.4h-20.8zM531.0,943.1h3.6v28h-3.6zM522.4,954.9h20.8v4.4h-20.8zM560.7,943.1h3.6v28h-3.6zM552.1,954.9h20.8v4.4h-20.8zM711.4,1006.1h3.6v28h-3.6zM702.8,1017.9h20.8v4.4h-20.8zM731.9,1006.1h3.6v28h-3.6zM723.3,1017.9h20.8v4.4h-20.8z" fill="#96CB79" stroke="none"/>
<path d="M311.5,968.0h3.6v28h-3.6zM302.9,979.8h20.8v4.4h-20.8zM360.1,968.0h3.6v28h-3.6zM351.5,979.8h20.8v4.4h-20.8zM424.9,968.0h3.6v28h-3.6zM416.3,979.8h20.8v4.4h-20.8z" fill="#EC1946" stroke="none"/>
<line x1="121.1" y1="1024.7" x2="152.4" y2="1024.7" stroke-width="5.4" stroke="#2669B5"/>
<path d="M145.9,1019.2h2.4v15.8h-2.4z M139.0,1024.0h16.2v4.7h-16.2z" fill="#2669B5" stroke="none"/>
<text x="163.6" y="1038.4" font-size="23.5">Low</text>
<line x1="121.1" y1="1053.7" x2="152.4" y2="1053.7" stroke-width="5.4" stroke="#96CB79"/>
<path d="M145.9,1048.2h2.4v15.8h-2.4z M139.0,1053.0h16.2v4.7h-16.2z" fill="#96CB79" stroke="none"/>
<text x="163.6" y="1067.0" font-size="23.5">Intermediate</text>
<line x1="121.1" y1="1078.7" x2="152.4" y2="1078.7" stroke-width="5.4" stroke="#EC1946"/>
<path d="M145.9,1073.2h2.4v15.8h-2.4z M139.0,1078.0h16.2v4.7h-16.2z" fill="#EC1946" stroke="none"/>
<text x="163.6" y="1091.7" font-size="23.5">High</text>
<text x="121.5" y="1116.6" font-size="23.5">Inter/low:HR: 39.87 (9.16-173.59)</text>
<text x="121.5" y="1144.7" font-size="23.5">High/low:HR: 180654.55 (5136.73-6353467.55), <tspan font-style="italic" dx="-1.6">p</tspan> = 7.49E-12</text>
<text x="36.0" y="1250.0">No.at risk</text>
<line x1="36.2" y1="1277.0" x2="70.4" y2="1277.0" stroke-width="4.6" stroke="#2669B5"/>
<text x="142.2" y="1284.4" text-anchor="middle">63</text>
<text x="327.8" y="1284.4" text-anchor="middle">45</text>
<text x="514.7" y="1284.4" text-anchor="middle">21</text>
<text x="706.4" y="1284.4" text-anchor="middle">4</text>
<text x="892.5" y="1284.4" text-anchor="middle">1</text>
<line x1="36.2" y1="1310.7" x2="70.4" y2="1310.7" stroke-width="4.6" stroke="#96CB79"/>
<text x="142.2" y="1317.0" text-anchor="middle">31</text>
<text x="327.8" y="1317.0" text-anchor="middle">17</text>
<text x="514.7" y="1317.0" text-anchor="middle">6</text>
<text x="706.4" y="1317.0" text-anchor="middle">1</text>
<text x="892.5" y="1317.0" text-anchor="middle">0</text>
<line x1="36.2" y1="1344.8" x2="70.4" y2="1344.8" stroke-width="4.6" stroke="#EC1946"/>
<text x="142.2" y="1351.3" text-anchor="middle">7</text>
<text x="327.8" y="1351.3" text-anchor="middle">2</text>
<text x="514.7" y="1351.3" text-anchor="middle">0</text>
<text x="706.4" y="1351.3" text-anchor="middle">0</text>
<text x="892.5" y="1351.3" text-anchor="middle">0</text>
</g>
<g id="panel-c">
<text x="1031.0" y="714.8" font-weight="bold" font-size="27">c</text>
<text x="1139.5" y="729.4">FAHSYSU cohort</text>
<path d="M1131.8,733.3V1169.2H1997.6" stroke-width="4.1" stroke-linejoin="miter"/>
<line x1="1122.1" y1="752.2" x2="1131.8" y2="752.2" stroke-width="4.1"/>
<text x="1117.4" y="758.3" text-anchor="end">1.00</text>
<line x1="1122.1" y1="852.8" x2="1131.8" y2="852.8" stroke-width="4.1"/>
<text x="1117.4" y="857.8" text-anchor="end">0.75</text>
<line x1="1122.1" y1="949.7" x2="1131.8" y2="949.7" stroke-width="4.1"/>
<text x="1117.4" y="958.1" text-anchor="end">0.50</text>
<line x1="1122.1" y1="1050.2" x2="1131.8" y2="1050.2" stroke-width="4.1"/>
<text x="1117.4" y="1057.2" text-anchor="end">0.25</text>
<line x1="1122.1" y1="1147.1" x2="1131.8" y2="1147.1" stroke-width="4.1"/>
<text x="1117.4" y="1156.6" text-anchor="end">0.00</text>
<line x1="1172.8" y1="1169.2" x2="1172.8" y2="1181.8" stroke-width="4.1"/>
<text x="1173.1" y="1206.0" text-anchor="middle">0</text>
<line x1="1368.5" y1="1169.2" x2="1368.5" y2="1181.8" stroke-width="4.1"/>
<text x="1371.5" y="1206.0" text-anchor="middle">30</text>
<line x1="1563.5" y1="1169.2" x2="1563.5" y2="1181.8" stroke-width="4.1"/>
<text x="1563.9" y="1206.0" text-anchor="middle">60</text>
<line x1="1761.3" y1="1169.2" x2="1761.3" y2="1181.8" stroke-width="4.1"/>
<text x="1763.7" y="1206.0" text-anchor="middle">90</text>
<line x1="1956.3" y1="1169.2" x2="1956.3" y2="1181.8" stroke-width="4.1"/>
<text x="1956.9" y="1206.0" text-anchor="middle">120</text>
<text x="1477.4" y="1237.6">Time (months)</text>
<text transform="translate(1056.8,946.7) rotate(-90) scale(1,1.05)" text-anchor="middle">PFS</text>
<path d="M1172.6,752.4H1966" stroke="#2669B5" stroke-width="4.7" stroke-linejoin="round"/>
<path d="M1172.6,752.4H1327.3V774.3H1628.8V836.7H1850.2" stroke="#96CB79" stroke-width="4.7" stroke-linejoin="round"/>
<path d="M1172.6,752.4H1196.6V777.3H1225.9V802.5H1271.5V836.7H1296.3V871.3H1307.8V906.1H1438.3V968.5H1599.6V1059.6H1747.1" stroke="#EC1946" stroke-width="4.7" stroke-linejoin="round"/>
<path d="M1194.1,742.4h3.6v28h-3.6zM1185.5,754.2h20.8v4.4h-20.8zM1226.3,742.4h3.6v28h-3.6zM1217.7,754.2h20.8v4.4h-20.8zM1266.6,742.4h3.6v28h-3.6zM1258.0,754.2h20.8v4.4h-20.8zM1270.9,742.4h3.6v28h-3.6zM1262.3,754.2h20.8v4.4h-20.8zM1415.8,742.4h3.6v28h-3.6zM1407.2,754.2h20.8v4.4h-20.8zM1425.3,742.4h3.6v28h-3.6zM1416.7,754.2h20.8v4.4h-20.8zM1466.6,742.4h3.6v28h-3.6zM1458.0,754.2h20.8v4.4h-20.8zM1488.3,742.4h3.6v28h-3.6zM1479.7,754.2h20.8v4.4h-20.8zM1505.2,742.4h3.6v28h-3.6zM1496.6,754.2h20.8v4.4h-20.8zM1512.3,742.4h3.6v28h-3.6zM1503.7,754.2h20.8v4.4h-20.8zM1519.7,742.4h3.6v28h-3.6zM1511.1,754.2h20.8v4.4h-20.8zM1551.2,742.4h3.6v28h-3.6zM1542.6,754.2h20.8v4.4h-20.8zM1628.1,742.4h3.6v28h-3.6zM1619.5,754.2h20.8v4.4h-20.8zM1681.3,742.4h3.6v28h-3.6zM1672.7,754.2h20.8v4.4h-20.8zM1787.2,742.4h3.6v28h-3.6zM1778.6,754.2h20.8v4.4h-20.8zM1828.2,742.4h3.6v28h-3.6zM1819.6,754.2h20.8v4.4h-20.8zM1977.9,742.4h3.6v28h-3.6zM1969.3,754.2h20.8v4.4h-20.8z" fill="#2669B5" stroke="none"/>
<path d="M1223.6,742.4h3.6v28h-3.6zM1215.0,754.2h20.8v4.4h-20.8zM1232.6,742.4h3.6v28h-3.6zM1224.0,754.2h20.8v4.4h-20.8zM1256.7,742.4h3.6v28h-3.6zM1248.1,754.2h20.8v4.4h-20.8zM1295.0,742.4h3.6v28h-3.6zM1286.4,754.2h20.8v4.4h-20.8zM1375.3,761.1h3.6v28h-3.6zM1366.7,772.9h20.8v4.4h-20.8zM1379.6,761.1h3.6v28h-3.6zM1371.0,772.9h20.8v4.4h-20.8zM1411.1,761.1h3.6v28h-3.6zM1402.5,772.9h20.8v4.4h-20.8zM1418.2,761.1h3.6v28h-3.6zM1409.6,772.9h20.8v4.4h-20.8zM1427.6,761.1h3.6v28h-3.6zM1419.0,772.9h20.8v4.4h-20.8zM1430.5,761.1h3.6v28h-3.6zM1421.9,772.9h20.8v4.4h-20.8zM1456.8,761.1h3.6v28h-3.6zM1448.2,772.9h20.8v4.4h-20.8zM1485.9,761.1h3.6v28h-3.6zM1477.3,772.9h20.8v4.4h-20.8zM1495.7,761.1h3.6v28h-3.6zM1487.1,772.9h20.8v4.4h-20.8zM1510.2,761.1h3.6v28h-3.6zM1501.6,772.9h20.8v4.4h-20.8zM1592.3,761.1h3.6v28h-3.6zM1583.7,772.9h20.8v4.4h-20.8zM1611.2,761.1h3.6v28h-3.6zM1602.6,772.9h20.8v4.4h-20.8zM1642.4,824.0h3.6v28h-3.6zM1633.8,835.8h20.8v4.4h-20.8zM1748.6,824.0h3.6v28h-3.6zM1740.0,835.8h20.8v4.4h-20.8zM1756.2,824.0h3.6v28h-3.6zM1747.6,835.8h20.8v4.4h-20.8zM1784.9,824.0h3.6v28h-3.6zM1776.3,835.8h20.8v4.4h-20.8zM1862.1,824.0h3.6v28h-3.6zM1853.5,835.8h20.8v4.4h-20.8z" fill="#96CB79" stroke="none"/>
<path d="M1184.2,742.4h3.6v28h-3.6zM1175.6,754.2h20.8v4.4h-20.8zM1213.0,764.1h3.6v28h-3.6zM1204.4,775.9h20.8v4.4h-20.8zM1256.7,792.4h3.6v28h-3.6zM1248.1,804.2h20.8v4.4h-20.8zM1264.1,792.4h3.6v28h-3.6zM1255.5,804.2h20.8v4.4h-20.8zM1280.8,792.4h3.6v28h-3.6zM1272.2,804.2h20.8v4.4h-20.8zM1394.1,895.9h3.6v28h-3.6zM1385.5,907.7h20.8v4.4h-20.8zM1401.3,895.9h3.6v28h-3.6zM1392.7,907.7h20.8v4.4h-20.8zM1418.2,895.9h3.6v28h-3.6zM1409.6,907.7h20.8v4.4h-20.8zM1536.4,955.5h3.6v28h-3.6zM1527.8,967.3h20.8v4.4h-20.8zM1758.2,1046.6h3.6v28h-3.6zM1749.6,1058.4h20.8v4.4h-20.8z" fill="#EC1946" stroke="none"/>
<line x1="1150.6" y1="1016.4" x2="1181.9" y2="1016.4" stroke-width="5.4" stroke="#2669B5"/>
<path d="M1175.4,1010.9h2.4v15.8h-2.4z M1168.5,1015.7h16.2v4.7h-16.2z" fill="#2669B5" stroke="none"/>
<text x="1193.0" y="1029.9" font-size="23.5">Low</text>
<line x1="1150.6" y1="1045.1" x2="1181.9" y2="1045.1" stroke-width="5.4" stroke="#96CB79"/>
<path d="M1175.4,1039.6h2.4v15.8h-2.4z M1168.5,1044.4h16.2v4.7h-16.2z" fill="#96CB79" stroke="none"/>
<text x="1193.0" y="1059.2" font-size="23.5">Intermediate</text>
<line x1="1150.6" y1="1070.2" x2="1181.9" y2="1070.2" stroke-width="5.4" stroke="#EC1946"/>
<path d="M1175.4,1064.7h2.4v15.8h-2.4z M1168.5,1069.5h16.2v4.7h-16.2z" fill="#EC1946" stroke="none"/>
<text x="1193.0" y="1083.5" font-size="23.5">High</text>
<text x="1151.2" y="1111.9" font-size="23.5">Inter/low:HR: 5.34 (0.32-90.10)</text>
<text x="1151.2" y="1140.0" font-size="23.5">High/low:HR: 13.64 (2.93-63.54), <tspan font-style="italic" dx="0.5">p</tspan> = 4.81E-05</text>
<text x="1063.8" y="1250.0">No.at risk</text>
<line x1="1063.3" y1="1277.0" x2="1098.0" y2="1277.0" stroke-width="4.6" stroke="#2669B5"/>
<text x="1173.1" y="1284.4" text-anchor="middle">23</text>
<text x="1371.5" y="1284.4" text-anchor="middle">13</text>
<text x="1564.3" y="1284.4" text-anchor="middle">5</text>
<text x="1763.8" y="1284.4" text-anchor="middle">3</text>
<text x="1957.1" y="1284.4" text-anchor="middle">1</text>
<line x1="1063.3" y1="1310.7" x2="1098.0" y2="1310.7" stroke-width="4.6" stroke="#96CB79"/>
<text x="1173.1" y="1317.6" text-anchor="middle">30</text>
<text x="1371.5" y="1317.6" text-anchor="middle">17</text>
<text x="1564.3" y="1317.6" text-anchor="middle">8</text>
<text x="1763.8" y="1317.6" text-anchor="middle">2</text>
<text x="1957.1" y="1317.6" text-anchor="middle">0</text>
<line x1="1063.3" y1="1344.8" x2="1098.0" y2="1344.8" stroke-width="4.6" stroke="#EC1946"/>
<text x="1173.1" y="1351.7" text-anchor="middle">18</text>
<text x="1371.5" y="1351.7" text-anchor="middle">7</text>
<text x="1564.3" y="1351.7" text-anchor="middle">2</text>
<text x="1763.8" y="1351.7" text-anchor="middle">0</text>
<text x="1957.1" y="1351.7" text-anchor="middle">0</text>
</g>
<g id="panel-d">
<text x="0.0" y="1425.2" font-weight="bold" font-size="27">d</text>
<text x="109.9" y="1425.8">CHCAMS cohort 1</text>
<path d="M101.1,1431.3V1867.2H966.9" stroke-width="4.1" stroke-linejoin="miter"/>
<line x1="91.3" y1="1450.3" x2="101.1" y2="1450.3" stroke-width="4.1"/>
<text x="89.0" y="1458.1" text-anchor="end">1.00</text>
<line x1="91.3" y1="1550.5" x2="101.1" y2="1550.5" stroke-width="4.1"/>
<text x="89.0" y="1556.3" text-anchor="end">0.75</text>
<line x1="91.3" y1="1647.6" x2="101.1" y2="1647.6" stroke-width="4.1"/>
<text x="89.0" y="1655.9" text-anchor="end">0.50</text>
<line x1="91.3" y1="1747.9" x2="101.1" y2="1747.9" stroke-width="4.1"/>
<text x="89.0" y="1755.3" text-anchor="end">0.25</text>
<line x1="91.3" y1="1845.0" x2="101.1" y2="1845.0" stroke-width="4.1"/>
<text x="89.0" y="1853.5" text-anchor="end">0.00</text>
<line x1="141.8" y1="1867.2" x2="141.8" y2="1879.8" stroke-width="4.1"/>
<text x="140.6" y="1901.7" text-anchor="middle">0</text>
<line x1="337.6" y1="1867.2" x2="337.6" y2="1879.8" stroke-width="4.1"/>
<text x="336.9" y="1901.7" text-anchor="middle">20</text>
<line x1="533.3" y1="1867.2" x2="533.3" y2="1879.8" stroke-width="4.1"/>
<text x="532.8" y="1901.7" text-anchor="middle">40</text>
<line x1="730.0" y1="1867.2" x2="730.0" y2="1879.8" stroke-width="4.1"/>
<text x="730.0" y="1901.7" text-anchor="middle">60</text>
<line x1="925.9" y1="1867.2" x2="925.9" y2="1879.8" stroke-width="4.1"/>
<text x="927.5" y="1901.7" text-anchor="middle">80</text>
<text x="446.6" y="1925.7">Time (months)</text>
<text transform="translate(26.8,1644.4) rotate(-90) scale(1,1.05)" text-anchor="middle">PFS</text>
<path d="M142.6,1450.5H865.6" stroke="#2669B5" stroke-width="4.7" stroke-linejoin="round"/>
<path d="M142.6,1450.5H315.6V1469.4H414.7V1491.1H523.4V1513H549.7V1538.1H698.6" stroke="#96CB79" stroke-width="4.7" stroke-linejoin="round"/>
<path d="M142.6,1450.5H219.5V1500.4H294.2V1550.6H672.6" stroke="#EC1946" stroke-width="4.7" stroke-linejoin="round"/>
<path d="M173.1,1440.5h3.6v28h-3.6zM164.5,1452.3h20.8v4.4h-20.8zM180.2,1440.5h3.6v28h-3.6zM171.6,1452.3h20.8v4.4h-20.8zM197.1,1440.5h3.6v28h-3.6zM188.5,1452.3h20.8v4.4h-20.8zM214.1,1440.5h3.6v28h-3.6zM205.5,1452.3h20.8v4.4h-20.8zM238.0,1440.5h3.6v28h-3.6zM229.4,1452.3h20.8v4.4h-20.8zM250.0,1440.5h3.6v28h-3.6zM241.4,1452.3h20.8v4.4h-20.8zM264.5,1440.5h3.6v28h-3.6zM255.9,1452.3h20.8v4.4h-20.8zM286.1,1440.5h3.6v28h-3.6zM277.5,1452.3h20.8v4.4h-20.8zM298.0,1440.5h3.6v28h-3.6zM289.4,1452.3h20.8v4.4h-20.8zM305.9,1440.5h3.6v28h-3.6zM297.3,1452.3h20.8v4.4h-20.8zM356.2,1440.5h3.6v28h-3.6zM347.6,1452.3h20.8v4.4h-20.8zM380.0,1440.5h3.6v28h-3.6zM371.4,1452.3h20.8v4.4h-20.8zM428.4,1440.5h3.6v28h-3.6zM419.8,1452.3h20.8v4.4h-20.8zM460.1,1440.5h3.6v28h-3.6zM451.5,1452.3h20.8v4.4h-20.8zM476.7,1440.5h3.6v28h-3.6zM468.1,1452.3h20.8v4.4h-20.8zM498.2,1440.5h3.6v28h-3.6zM489.6,1452.3h20.8v4.4h-20.8zM502.5,1440.5h3.6v28h-3.6zM493.9,1452.3h20.8v4.4h-20.8zM508.0,1440.5h3.6v28h-3.6zM499.4,1452.3h20.8v4.4h-20.8zM515.1,1440.5h3.6v28h-3.6zM506.5,1452.3h20.8v4.4h-20.8zM522.4,1440.5h3.6v28h-3.6zM513.8,1452.3h20.8v4.4h-20.8zM529.8,1440.5h3.6v28h-3.6zM521.2,1452.3h20.8v4.4h-20.8zM541.9,1440.5h3.6v28h-3.6zM533.3,1452.3h20.8v4.4h-20.8zM549.0,1440.5h3.6v28h-3.6zM540.4,1452.3h20.8v4.4h-20.8zM556.5,1440.5h3.6v28h-3.6zM547.9,1452.3h20.8v4.4h-20.8zM561.3,1440.5h3.6v28h-3.6zM552.7,1452.3h20.8v4.4h-20.8zM566.0,1440.5h3.6v28h-3.6zM557.4,1452.3h20.8v4.4h-20.8zM568.8,1440.5h3.6v28h-3.6zM560.2,1452.3h20.8v4.4h-20.8zM604.3,1440.5h3.6v28h-3.6zM595.7,1452.3h20.8v4.4h-20.8zM626.2,1440.5h3.6v28h-3.6zM617.6,1452.3h20.8v4.4h-20.8zM628.7,1440.5h3.6v28h-3.6zM620.1,1452.3h20.8v4.4h-20.8zM664.6,1440.5h3.6v28h-3.6zM656.0,1452.3h20.8v4.4h-20.8zM674.3,1440.5h3.6v28h-3.6zM665.7,1452.3h20.8v4.4h-20.8zM739.7,1440.5h3.6v28h-3.6zM731.1,1452.3h20.8v4.4h-20.8zM797.3,1440.5h3.6v28h-3.6zM788.7,1452.3h20.8v4.4h-20.8zM821.6,1440.5h3.6v28h-3.6zM813.0,1452.3h20.8v4.4h-20.8zM876.9,1440.5h3.6v28h-3.6zM868.3,1452.3h20.8v4.4h-20.8z" fill="#2669B5" stroke="none"/>
<path d="M185.2,1440.5h3.6v28h-3.6zM176.6,1452.3h20.8v4.4h-20.8zM187.8,1440.5h3.6v28h-3.6zM179.2,1452.3h20.8v4.4h-20.8zM245.3,1440.5h3.6v28h-3.6zM236.7,1452.3h20.8v4.4h-20.8zM260.1,1440.5h3.6v28h-3.6zM251.5,1452.3h20.8v4.4h-20.8zM293.6,1440.5h3.6v28h-3.6zM285.0,1452.3h20.8v4.4h-20.8zM303.4,1440.5h3.6v28h-3.6zM294.8,1452.3h20.8v4.4h-20.8zM334.6,1458.9h3.6v28h-3.6zM326.0,1470.7h20.8v4.4h-20.8zM469.4,1481.0h3.6v28h-3.6zM460.8,1492.8h20.8v4.4h-20.8zM544.3,1502.8h3.6v28h-3.6zM535.7,1514.6h20.8v4.4h-20.8zM568.4,1524.8h3.6v28h-3.6zM559.8,1536.6h20.8v4.4h-20.8zM578.1,1524.8h3.6v28h-3.6zM569.5,1536.6h20.8v4.4h-20.8zM589.9,1524.8h3.6v28h-3.6zM581.3,1536.6h20.8v4.4h-20.8zM592.8,1524.8h3.6v28h-3.6zM584.2,1536.6h20.8v4.4h-20.8zM597.2,1524.8h3.6v28h-3.6zM588.6,1536.6h20.8v4.4h-20.8zM601.6,1524.8h3.6v28h-3.6zM593.0,1536.6h20.8v4.4h-20.8zM604.6,1524.8h3.6v28h-3.6zM596.0,1536.6h20.8v4.4h-20.8zM628.7,1524.8h3.6v28h-3.6zM620.1,1536.6h20.8v4.4h-20.8zM642.9,1524.8h3.6v28h-3.6zM634.3,1536.6h20.8v4.4h-20.8zM667.1,1524.8h3.6v28h-3.6zM658.5,1536.6h20.8v4.4h-20.8zM705.7,1524.8h3.6v28h-3.6zM697.1,1536.6h20.8v4.4h-20.8zM708.4,1524.8h3.6v28h-3.6zM699.8,1536.6h20.8v4.4h-20.8zM711.1,1524.8h3.6v28h-3.6zM702.5,1536.6h20.8v4.4h-20.8z" fill="#96CB79" stroke="none"/>
<path d="M153.9,1440.5h3.6v28h-3.6zM145.3,1452.3h20.8v4.4h-20.8zM500.9,1537.4h3.6v28h-3.6zM492.3,1549.2h20.8v4.4h-20.8zM515.1,1537.4h3.6v28h-3.6zM506.5,1549.2h20.8v4.4h-20.8zM633.3,1537.4h3.6v28h-3.6zM624.7,1549.2h20.8v4.4h-20.8zM650.3,1537.4h3.6v28h-3.6zM641.7,1549.2h20.8v4.4h-20.8zM660.1,1537.4h3.6v28h-3.6zM651.5,1549.2h20.8v4.4h-20.8z" fill="#EC1946" stroke="none"/>
<line x1="121.1" y1="1719.8" x2="152.4" y2="1719.8" stroke-width="5.4" stroke="#2669B5"/>
<path d="M145.9,1714.3h2.4v15.8h-2.4z M139.0,1719.1h16.2v4.7h-16.2z" fill="#2669B5" stroke="none"/>
<text x="163.6" y="1733.9" font-size="23.5">Low</text>
<line x1="121.1" y1="1748.6" x2="152.4" y2="1748.6" stroke-width="5.4" stroke="#96CB79"/>
<path d="M145.9,1743.1h2.4v15.8h-2.4z M139.0,1747.9h16.2v4.7h-16.2z" fill="#96CB79" stroke="none"/>
<text x="163.6" y="1762.3" font-size="23.5">Intermediate</text>
<line x1="121.1" y1="1773.7" x2="152.4" y2="1773.7" stroke-width="5.4" stroke="#EC1946"/>
<path d="M145.9,1768.2h2.4v15.8h-2.4z M139.0,1773.0h16.2v4.7h-16.2z" fill="#EC1946" stroke="none"/>
<text x="163.6" y="1786.7" font-size="23.5">High</text>
<text x="119.7" y="1814.1" font-size="23.5">Inter/low:HR: 8.93 (1.24-64.41)</text>
<text x="119.7" y="1841.9" font-size="23.5">High/low:HR: 203.74 (5.87-7069.34), <tspan font-style="italic" dx="-2.7">p</tspan> = 0.039</text>
<text x="35.8" y="1937.6">No.at risk</text>
<line x1="37.3" y1="1962.9" x2="70.9" y2="1962.9" stroke-width="4.6" stroke="#2669B5"/>
<text x="140.4" y="1969.9" text-anchor="middle">44</text>
<text x="336.8" y="1969.9" text-anchor="middle">28</text>
<text x="533.1" y="1969.9" text-anchor="middle">15</text>
<text x="730.2" y="1969.9" text-anchor="middle">3</text>
<text x="927.5" y="1969.9" text-anchor="middle">0</text>
<line x1="37.3" y1="1996.5" x2="70.9" y2="1996.5" stroke-width="4.6" stroke="#96CB79"/>
<text x="140.4" y="2007.5" text-anchor="middle">31</text>
<text x="336.8" y="2007.5" text-anchor="middle">18</text>
<text x="533.1" y="2007.5" text-anchor="middle">14</text>
<text x="730.2" y="2007.5" text-anchor="middle">0</text>
<text x="927.5" y="2007.5" text-anchor="middle">0</text>
<line x1="37.3" y1="2030.4" x2="70.9" y2="2030.4" stroke-width="4.6" stroke="#EC1946"/>
<text x="140.4" y="2039.4" text-anchor="middle">9</text>
<text x="336.8" y="2039.4" text-anchor="middle">6</text>
<text x="533.1" y="2039.4" text-anchor="middle">4</text>
<text x="730.2" y="2039.4" text-anchor="middle">0</text>
<text x="927.5" y="2039.4" text-anchor="middle">0</text>
</g>
<g id="panel-e">
<text x="1031.0" y="1425.2" font-weight="bold" font-size="27">e</text>
<text x="1140.9" y="1425.8">CHCAMS cohort 2</text>
<path d="M1131.8,1431.0V1867.2H1997.6" stroke-width="4.1" stroke-linejoin="miter"/>
<line x1="1122.2" y1="1450.3" x2="1131.8" y2="1450.3" stroke-width="4.1"/>
<text x="1119.7" y="1458.7" text-anchor="end">1.00</text>
<line x1="1122.2" y1="1550.5" x2="1131.8" y2="1550.5" stroke-width="4.1"/>
<text x="1119.7" y="1556.3" text-anchor="end">0.75</text>
<line x1="1122.2" y1="1647.6" x2="1131.8" y2="1647.6" stroke-width="4.1"/>
<text x="1119.7" y="1655.2" text-anchor="end">0.50</text>
<line x1="1122.2" y1="1747.9" x2="1131.8" y2="1747.9" stroke-width="4.1"/>
<text x="1119.7" y="1753.0" text-anchor="end">0.25</text>
<line x1="1122.2" y1="1845.1" x2="1131.8" y2="1845.1" stroke-width="4.1"/>
<text x="1119.7" y="1850.3" text-anchor="end">0.00</text>
<line x1="1172.8" y1="1867.2" x2="1172.8" y2="1879.8" stroke-width="4.1"/>
<text x="1172.8" y="1901.5" text-anchor="middle">0</text>
<line x1="1368.5" y1="1867.2" x2="1368.5" y2="1879.8" stroke-width="4.1"/>
<text x="1371.1" y="1901.5" text-anchor="middle">30</text>
<line x1="1563.0" y1="1867.2" x2="1563.0" y2="1879.8" stroke-width="4.1"/>
<text x="1563.0" y="1901.5" text-anchor="middle">60</text>
<line x1="1761.3" y1="1867.2" x2="1761.3" y2="1879.8" stroke-width="4.1"/>
<text x="1761.3" y="1901.5" text-anchor="middle">90</text>
<line x1="1955.9" y1="1867.2" x2="1955.9" y2="1879.8" stroke-width="4.1"/>
<text x="1957.2" y="1901.5" text-anchor="middle">120</text>
<text x="1474.1" y="1925.7">Time (months)</text>
<text transform="translate(1060.0,1645.3) rotate(-90) scale(1,1.05)" text-anchor="middle">PFS</text>
<path d="M1172.9,1450.5H1962" stroke="#2669B5" stroke-width="4.7" stroke-linejoin="round"/>
<path d="M1172.9,1450.5H1433.7V1484.8H1580.7V1522.2H1965" stroke="#96CB79" stroke-width="4.7" stroke-linejoin="round"/>
<path d="M1172.9,1450.5H1221.4V1506.4H1329.8V1563.1H1501V1635.5H1604.8V1704.3H1638.7V1776.5H1744.4" stroke="#EC1946" stroke-width="4.7" stroke-linejoin="round"/>
<path d="M1184.2,1440.4h3.6v28h-3.6zM1175.6,1452.2h20.8v4.4h-20.8zM1191.6,1440.4h3.6v28h-3.6zM1183.0,1452.2h20.8v4.4h-20.8zM1242.2,1440.4h3.6v28h-3.6zM1233.6,1452.2h20.8v4.4h-20.8zM1251.9,1440.4h3.6v28h-3.6zM1243.3,1452.2h20.8v4.4h-20.8zM1259.4,1440.4h3.6v28h-3.6zM1250.8,1452.2h20.8v4.4h-20.8zM1329.2,1440.4h3.6v28h-3.6zM1320.6,1452.2h20.8v4.4h-20.8zM1360.7,1440.4h3.6v28h-3.6zM1352.1,1452.2h20.8v4.4h-20.8zM1435.2,1440.4h3.6v28h-3.6zM1426.6,1452.2h20.8v4.4h-20.8zM1659.6,1440.4h3.6v28h-3.6zM1651.0,1452.2h20.8v4.4h-20.8zM1683.5,1440.4h3.6v28h-3.6zM1674.9,1452.2h20.8v4.4h-20.8zM1717.1,1440.4h3.6v28h-3.6zM1708.5,1452.2h20.8v4.4h-20.8zM1722.2,1440.4h3.6v28h-3.6zM1713.6,1452.2h20.8v4.4h-20.8zM1738.8,1440.4h3.6v28h-3.6zM1730.2,1452.2h20.8v4.4h-20.8zM1741.7,1440.4h3.6v28h-3.6zM1733.1,1452.2h20.8v4.4h-20.8zM1763.1,1440.4h3.6v28h-3.6zM1754.5,1452.2h20.8v4.4h-20.8zM1768.3,1440.4h3.6v28h-3.6zM1759.7,1452.2h20.8v4.4h-20.8zM1794.3,1440.4h3.6v28h-3.6zM1785.7,1452.2h20.8v4.4h-20.8zM1864.4,1440.4h3.6v28h-3.6zM1855.8,1452.2h20.8v4.4h-20.8zM1893.2,1440.4h3.6v28h-3.6zM1884.6,1452.2h20.8v4.4h-20.8zM1907.7,1440.4h3.6v28h-3.6zM1899.1,1452.2h20.8v4.4h-20.8zM1934.1,1440.4h3.6v28h-3.6zM1925.5,1452.2h20.8v4.4h-20.8zM1943.6,1440.4h3.6v28h-3.6zM1935.0,1452.2h20.8v4.4h-20.8zM1946.6,1440.4h3.6v28h-3.6zM1938.0,1452.2h20.8v4.4h-20.8zM1953.8,1440.4h3.6v28h-3.6zM1945.2,1452.2h20.8v4.4h-20.8zM1958.2,1440.4h3.6v28h-3.6zM1949.6,1452.2h20.8v4.4h-20.8zM1962.9,1440.4h3.6v28h-3.6zM1954.3,1452.2h20.8v4.4h-20.8zM1973.1,1440.4h3.6v28h-3.6zM1964.5,1452.2h20.8v4.4h-20.8z" fill="#2669B5" stroke="none"/>
<path d="M1336.2,1440.4h3.6v28h-3.6zM1327.6,1452.2h20.8v4.4h-20.8zM1579.7,1471.7h3.6v28h-3.6zM1571.1,1483.5h20.8v4.4h-20.8zM1587.1,1471.7h3.6v28h-3.6zM1578.5,1483.5h20.8v4.4h-20.8zM1700.4,1512.3h3.6v28h-3.6zM1691.8,1524.1h20.8v4.4h-20.8zM1715.1,1512.3h3.6v28h-3.6zM1706.5,1524.1h20.8v4.4h-20.8zM1736.5,1512.3h3.6v28h-3.6zM1727.9,1524.1h20.8v4.4h-20.8zM1835.3,1512.3h3.6v28h-3.6zM1826.7,1524.1h20.8v4.4h-20.8zM1905.4,1512.3h3.6v28h-3.6zM1896.8,1524.1h20.8v4.4h-20.8zM1910.1,1512.3h3.6v28h-3.6zM1901.5,1524.1h20.8v4.4h-20.8zM1963.2,1512.3h3.6v28h-3.6zM1954.6,1524.1h20.8v4.4h-20.8zM1975.5,1512.3h3.6v28h-3.6zM1966.9,1524.1h20.8v4.4h-20.8z" fill="#96CB79" stroke="none"/>
<path d="M1186.6,1440.4h3.6v28h-3.6zM1178.0,1452.2h20.8v4.4h-20.8zM1459.2,1553.1h3.6v28h-3.6zM1450.6,1564.9h20.8v4.4h-20.8zM1756.3,1763.3h3.6v28h-3.6zM1747.7,1775.1h20.8v4.4h-20.8z" fill="#EC1946" stroke="none"/>
<line x1="1148.9" y1="1721.4" x2="1180.2" y2="1721.4" stroke-width="5.4" stroke="#2669B5"/>
<path d="M1173.7,1715.9h2.4v15.8h-2.4z M1166.8,1720.7h16.2v4.7h-16.2z" fill="#2669B5" stroke="none"/>
<text x="1191.5" y="1734.9" font-size="23.5">Low</text>
<line x1="1148.9" y1="1750.6" x2="1180.2" y2="1750.6" stroke-width="5.4" stroke="#96CB79"/>
<path d="M1173.7,1745.1h2.4v15.8h-2.4z M1166.8,1749.9h16.2v4.7h-16.2z" fill="#96CB79" stroke="none"/>
<text x="1191.5" y="1764.3" font-size="23.5">Intermediate</text>
<line x1="1148.9" y1="1775.3" x2="1180.2" y2="1775.3" stroke-width="5.4" stroke="#EC1946"/>
<path d="M1173.7,1769.8h2.4v15.8h-2.4z M1166.8,1774.6h16.2v4.7h-16.2z" fill="#EC1946" stroke="none"/>
<text x="1191.5" y="1788.9" font-size="23.5">High</text>
<text x="1146.0" y="1812.2" font-size="23.5">Inter/low:HR: 17.05 (0.93-311.27)</text>
<text x="1146.0" y="1840.5" font-size="23.5">High/low:HR: 406.63 (38.50-4294.86), <tspan font-style="italic" dx="0.4">p</tspan> = 3.30E-06</text>
<text x="1065.9" y="1937.6">No.at risk</text>
<line x1="1066.5" y1="1962.9" x2="1100.6" y2="1962.9" stroke-width="4.6" stroke="#2669B5"/>
<text x="1172.8" y="1970.0" text-anchor="middle">28</text>
<text x="1371.0" y="1970.0" text-anchor="middle">20</text>
<text x="1563.3" y="1970.0" text-anchor="middle">19</text>
<text x="1761.1" y="1970.0" text-anchor="middle">11</text>
<text x="1957.1" y="1970.0" text-anchor="middle">1</text>
<line x1="1066.5" y1="1996.5" x2="1100.6" y2="1996.5" stroke-width="4.6" stroke="#96CB79"/>
<text x="1172.8" y="2007.1" text-anchor="middle">19</text>
<text x="1371.0" y="2007.1" text-anchor="middle">12</text>
<text x="1563.3" y="2007.1" text-anchor="middle">11</text>
<text x="1761.1" y="2007.1" text-anchor="middle">5</text>
<text x="1957.1" y="2007.1" text-anchor="middle">1</text>
<line x1="1066.5" y1="2030.4" x2="1100.6" y2="2030.4" stroke-width="4.6" stroke="#EC1946"/>
<text x="1172.8" y="2039.9" text-anchor="middle">8</text>
<text x="1371.0" y="2039.9" text-anchor="middle">5</text>
<text x="1563.3" y="2039.9" text-anchor="middle">3</text>
<text x="1761.1" y="2039.9" text-anchor="middle">0</text>
<text x="1957.1" y="2039.9" text-anchor="middle">0</text>
</g>
</svg>
</body>
</html>
